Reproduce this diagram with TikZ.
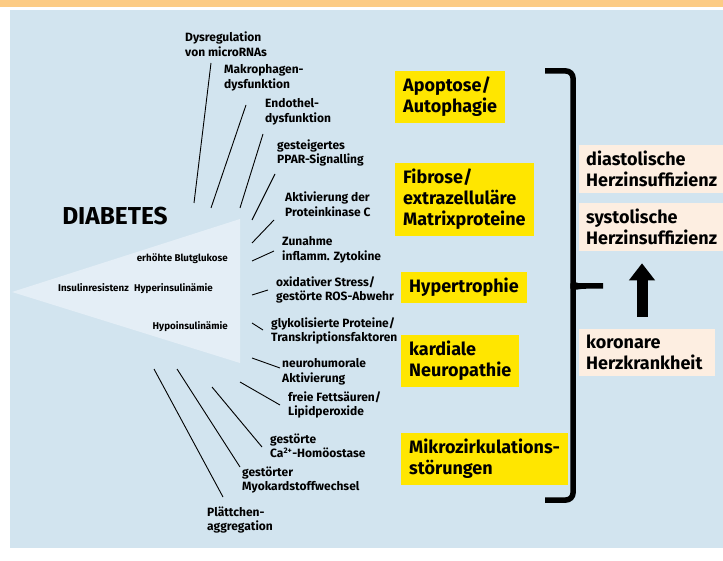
\documentclass[tikz,border=0pt]{standalone}
\usepackage{fontspec}
\setmainfont{Fira Sans}
\usetikzlibrary{arrows.meta}

\definecolor{bandorange}{HTML}{FCCB84}
\definecolor{panelblue}{HTML}{D2E4EF}
\definecolor{coneblue}{HTML}{E4EEF6}
\definecolor{boxyellow}{HTML}{FFE600}
\definecolor{boxpeach}{HTML}{FDEEE1}

\begin{document}
\begin{tikzpicture}[x=1pt, y=-1pt,
    factor/.style={anchor=west, align=left, inner sep=0pt,
        font=\bfseries\fontsize{12}{14.5}\selectfont},
    cone/.style={anchor=east, inner sep=0pt,
        font=\bfseries\fontsize{9.8}{10}\selectfont},
    effect/.style={anchor=north west, align=left, fill=boxyellow,
        inner xsep=8pt, inner ysep=6pt,
        font=\bfseries\fontsize{18}{21}\selectfont},
    outcome/.style={anchor=north west, align=left, fill=boxpeach,
        inner xsep=7pt, inner ysep=6pt, text width=130pt,
        font=\bfseries\fontsize{18}{21}\selectfont},
    ray/.style={line width=0.9pt},
    brace/.style={line width=5.5pt, rounded corners=7pt},
    bigarrow/.style={-{Triangle[width=25pt, length=17pt]}, line width=11pt}
]

        \useasboundingbox (0,0) rectangle (723,561);

        % background
        \fill[bandorange] (0,0) rectangle (723,7);
        \fill[panelblue] (10,10) rectangle (723,548);
        \fill[coneblue] (12,292) -- (240,219) -- (240,363) -- cycle;

        \node[inner sep=0pt, font=\bfseries\fontsize{24.5}{24.5}\selectfont] (diabetes) at (115,216) {DIABETES};

        \node[cone] (glukose) at (228,259) {erhöhte Blutglukose};
        \node[cone] (insulin) at (213,289) {Insulinresistenz\hspace{3pt} Hyperinsulinämie};
        \node[cone] (hypo) at (228,327) {Hypoinsulinämie};

        % factors
        \node[factor] (mirna) at (185,44) {Dysregulation\\von microRNAs};
        \node[factor] (makro) at (224,78) {Makrophagen-\\dysfunktion};
        \node[factor] (endo) at (265,112) {Endothel-\\dysfunktion};
        \node[factor] (ppar) at (277,153) {gesteigertes\\PPAR-Signalling};
        \node[factor] (pkc) at (285,204) {Aktivierung der\\Proteinkinase C};
        \node[factor] (zyto) at (282,250) {Zunahme\\inflamm. Zytokine};
        \node[factor] (ros) at (276,290) {oxidativer Stress/\\gestörte ROS-Abwehr};
        \node[factor] (glyko) at (271,331) {glykolisierte Proteine/\\Transkriptionsfaktoren};
        \node[factor] (neuro) at (282,372) {neurohumorale\\Aktivierung};
        \node[factor] (fett) at (288,405) {freie Fettsäuren/\\Lipidperoxide};
        \node[factor] (calc) at (270,446) {gestörte\\Ca\textsuperscript{2+}-Homöostase};
        \node[factor] (myo) at (242,480) {gestörter\\Myokardstoffwechsel};
        \node[factor] (platt) at (207,520) {Plättchen-\\aggregation};

        % rays
        \draw[ray] (211,63) -- (194,203);
        \draw[ray] (246,105) -- (211,208);
        \draw[ray] (263,134) -- (240,208);
        \draw[ray] (275,174) -- (252,220);
        \draw[ray] (274,220) -- (252,243);
        \draw[ray] (274,251) -- (252,261);
        \draw[ray] (268,290) -- (252,295);
        \draw[ray] (263,330) -- (252,323);
        \draw[ray] (280,368) -- (252,358);
        \draw[ray] (280,405) -- (240,382);
        \draw[ray] (262,447) -- (212,387);
        \draw[ray] (240,467) -- (177,369);
        \draw[ray] (223,497) -- (154,369);

        % yellow boxes
        \node[effect] (apoptose) at (395,71) {Apoptose/\\Autophagie};
        \node[effect] (fibrose) at (395,163) {Fibrose/\\extrazelluläre\\Matrixproteine};
        \node[effect] (hypertrophie) at (401,272) {Hypertrophie};
        \node[effect] (neuropathie) at (401,335) {kardiale\\Neuropathie};
        \node[effect] (mikro) at (401,433) {Mikrozirkulations-\\störungen};

        % brace
        \draw[brace] (545,71) -| (573,278) .. controls (573,284) and (578,286) .. (586,286) -- (603,286);
        \draw[brace] (545,500) -| (573,294) .. controls (573,288) and (578,286) .. (586,286);

        % outcomes
        \node[outcome] (diastolisch) at (579,145) {diastolische\\Herzinsuffizienz};
        \node[outcome] (systolisch) at (579,203) {systolische\\Herzinsuffizienz};
        \node[outcome, text width=122pt] (khk) at (579,329) {koronare\\Herzkrankheit};

        \coordinate (arrowx) at (642,0);
        \draw[bigarrow, shorten <=12pt, shorten >=12pt] (khk.north -| arrowx) -- (systolisch.south -| arrowx);

    \end{tikzpicture}
\end{document}
